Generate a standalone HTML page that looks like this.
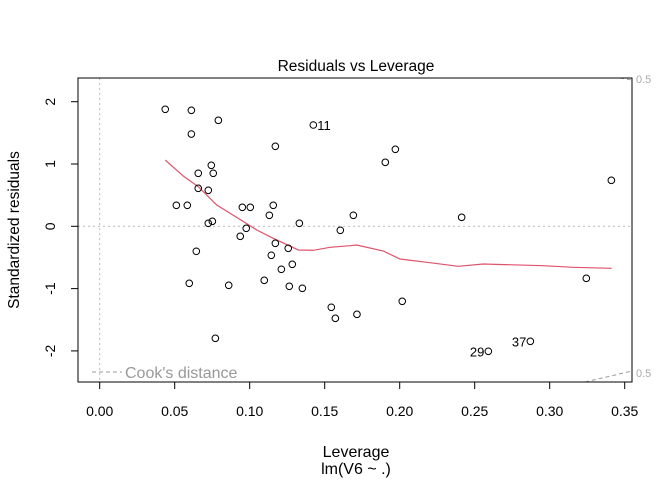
<!DOCTYPE html>
<html><head><meta charset="utf-8"><style>
body{margin:0;background:#fff}
svg{font-family:"Liberation Sans",Arial,sans-serif}
</style></head><body>
<svg id="c" width="672" height="480">
<rect width="672" height="480" fill="#fff"/>
<text x="356" y="71" text-anchor="middle" font-size="15.5">Residuals vs Leverage</text>
<text x="356" y="457" text-anchor="middle" font-size="16">Leverage</text>
<text x="356" y="474" text-anchor="middle" font-size="16">lm(V6 ~ .)</text>
<text transform="translate(19,230) rotate(-90)" text-anchor="middle" font-size="15.5">Standardized residuals</text>
<g id="plot"></g>
</svg>
<script>
const leverage=[0.0437,0.0611,0.0791,0.0611,0.1424,0.1171,0.0744,0.0657,0.0757,0.0657,0.0724,0.0511,0.0584,0.0951,0.1004,0.1157,0.1131,0.1691,0.0724,0.0751,0.1331,0.0977,0.1604,0.0937,0.1171,0.1257,0.0644,0.1144,0.1284,0.1211,0.0597,0.0860,0.1097,0.1264,0.1351,0.1544,0.1571,0.0771,0.1715,0.1971,0.1904,0.3411,0.2413,0.3244,0.2017,0.2591,0.2871];
const residuals=[1.878,1.862,1.701,1.481,1.626,1.284,0.979,0.851,0.851,0.610,0.578,0.337,0.337,0.305,0.305,0.337,0.177,0.177,0.048,0.080,0.048,-0.032,-0.064,-0.161,-0.273,-0.353,-0.401,-0.465,-0.610,-0.690,-0.915,-0.947,-0.867,-0.963,-0.995,-1.300,-1.477,-1.798,-1.413,1.236,1.027,0.738,0.144,-0.835,-1.204,-2.006,-1.846];
const pointLabels={4:"11",45:"29",46:"37"};
const smoothX=[0.0437,0.0557,0.0657,0.078,0.0924,0.1047,0.1157,0.1324,0.1424,0.1535,0.1669,0.1713,0.189,0.2002,0.2202,0.2391,0.2557,0.2957,0.3157,0.3413];
const smoothY=[1.064,0.807,0.636,0.342,0.128,-0.059,-0.193,-0.380,-0.385,-0.337,-0.311,-0.300,-0.396,-0.525,-0.584,-0.642,-0.605,-0.632,-0.658,-0.674];
const xTicks=["0.00","0.05","0.10","0.15","0.20","0.25","0.30","0.35"];
const yTicks=["-2","-1","0","1","2"];

const NS="http://www.w3.org/2000/svg";
const g=document.getElementById('plot');
const sx=v=>99.7+1500*v, sy=v=>226.3-62.3*v;
function el(t,a,p){const e=document.createElementNS(NS,t);for(const k in a)e.setAttribute(k,a[k]);(p||g).appendChild(e);return e;}
let e;
e=el('line',{x1:sx(0),x2:sx(0),y1:78,y2:382,stroke:'#bbb','stroke-dasharray':'2,3'});


e=el('line',{x1:78,x2:632,y1:sy(0),y2:sy(0),stroke:'#bbb','stroke-dasharray':'2,3'});


e=el('path',{d:'M620,78 L632,80 M585,382 L632,371',stroke:'#999',fill:'none','stroke-dasharray':'4,3'});


['0.5','0.5'].forEach((t,i)=>{e=el('text',{x:636,y:i?377:83,'font-size':11,fill:'#aaa'});e.textContent=t;

});
e=el('line',{x1:92,x2:122,y1:372,y2:372,stroke:'#999','stroke-dasharray':'4,3'});


e=el('text',{x:125,y:378,'font-size':16,fill:'#999'});e.textContent="Cook's distance";


e=el('rect',{x:78,y:78,width:554,height:304,fill:'none',stroke:'#000'});


xTicks.forEach(t=>{const x=sx(parseFloat(t));
el('line',{x1:x,x2:x,y1:382,y2:389,stroke:'#000'});
e=el('text',{x:x,y:416,'text-anchor':'middle','font-size':14});e.textContent=t;

});
yTicks.forEach(t=>{const y=sy(parseFloat(t));
el('line',{x1:71,x2:78,y1:y,y2:y,stroke:'#000'});
e=el('text',{transform:`translate(55,${y}) rotate(-90)`,'text-anchor':'middle','font-size':14});e.textContent=t;

});
e=el('polyline',{points:smoothX.map((v,i)=>sx(v)+','+sy(smoothY[i])).join(' '),fill:'none',stroke:'#DF536B','stroke-width':1.2});


leverage.forEach((v,i)=>{const x=sx(v),y=sy(residuals[i]);
e=el('circle',{cx:x,cy:y,r:3.3,fill:'none',stroke:'#000'});


if(pointLabels[i]){const right=i===4;
e=el('text',{x:right?x+4:x-4,y:y+5,'text-anchor':right?'start':'end','font-size':13});e.textContent=pointLabels[i];

}});
</script>
</body></html>
